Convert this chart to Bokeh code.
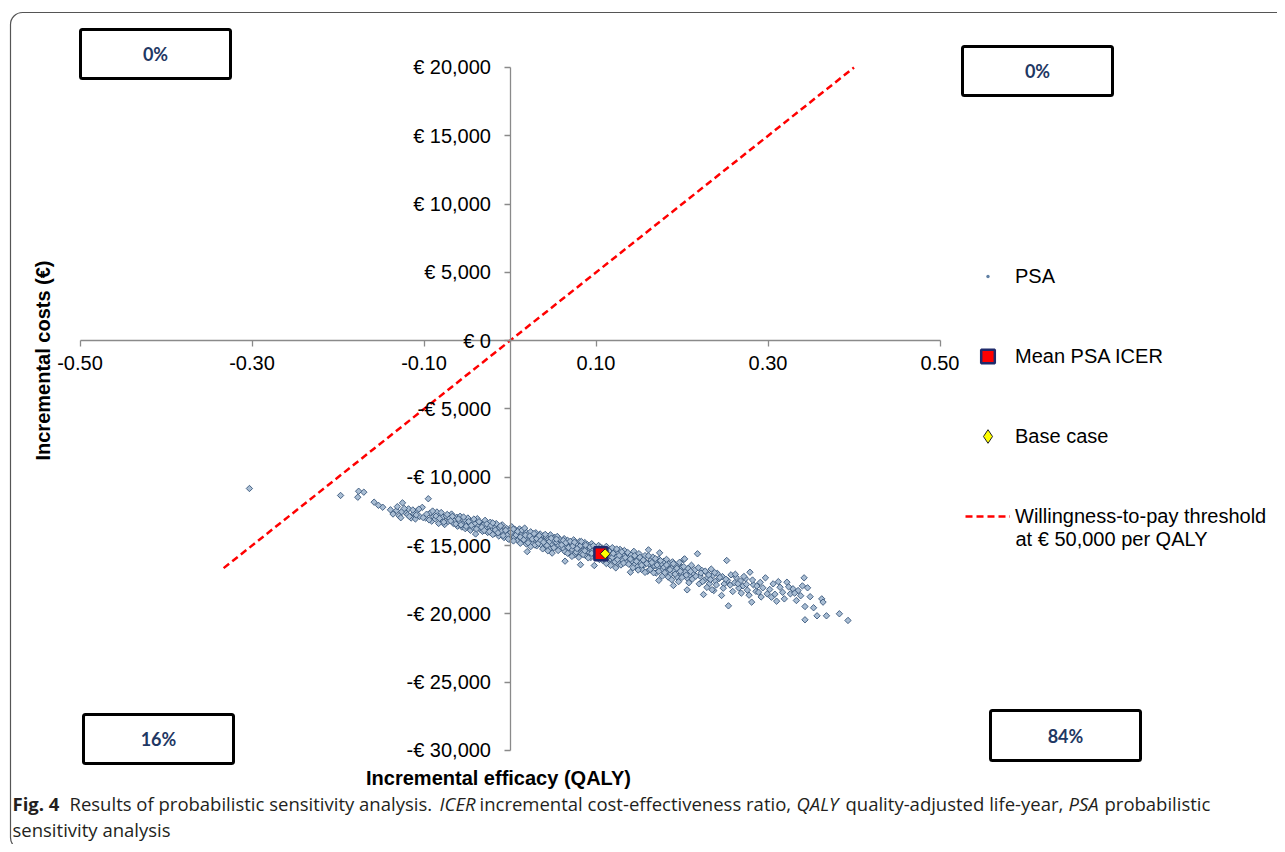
import math
from bokeh.plotting import figure
from bokeh.models import (Range1d, FixedTicker, Legend, LegendItem, Label,
                          BoxAnnotation, ColumnDataSource)
from bokeh.embed import file_html
from bokeh.resources import INLINE

# ---------------- data ----------------
psa_points = [
    (-0.303, -10820),
    (-0.197, -11330), (-0.176, -11020), (-0.177, -11460), (-0.170, -11090),
    (-0.158, -11820), (-0.148, -12190), (-0.139, -12380), (-0.153, -12050),
    (-0.132, -12430), (-0.125, -11870), (-0.136, -12690), (-0.129, -12820),
    (-0.122, -12560), (-0.118, -12310), (-0.115, -12980), (-0.112, -12640),
    (-0.108, -12450), (-0.105, -12870), (-0.119, -12740), (-0.126, -12520),
    (-0.102, -12200), (-0.110, -13050),
    (-0.098, -12980), (-0.095, -11570), (-0.093, -12620), (-0.091, -13210),
    (-0.089, -12880), (-0.087, -13050), (-0.085, -12540), (-0.083, -13380),
    (-0.081, -12760), (-0.079, -13120), (-0.078, -12910), (-0.076, -13460),
    (-0.074, -12840), (-0.072, -13230), (-0.070, -13010), (-0.068, -12690),
    (-0.066, -13370), (-0.064, -13140), (-0.062, -12920), (-0.061, -13580),
    (-0.059, -13290), (-0.058, -12850), (-0.056, -13640), (-0.055, -13420),
    (-0.053, -13100), (-0.052, -13760), (-0.050, -13350), (-0.049, -12980),
    (-0.047, -13550), (-0.046, -13880), (-0.044, -13220), (-0.043, -13670),
    (-0.041, -13410), (-0.040, -14150), (-0.038, -13030), (-0.037, -13590),
    (-0.035, -13800), (-0.034, -13340), (-0.032, -13960), (-0.031, -13480),
    (-0.029, -13150), (-0.028, -13720), (-0.026, -14040), (-0.025, -13560),
    (-0.023, -13290), (-0.021, -13880),
    (-0.019, -13610), (-0.018, -14120), (-0.016, -13390), (-0.015, -13850),
    (-0.013, -14300), (-0.012, -13700), (-0.010, -13960), (-0.009, -13480),
    (-0.007, -14410), (-0.006, -14080), (-0.004, -13740), (-0.003, -14230),
    (-0.001, -13910), (0.000, -14550), (0.002, -13620), (0.003, -14170),
    (0.005, -14380), (0.006, -13830), (0.008, -14040), (0.009, -14620),
    (0.010, -14260), (0.011, -13780), (0.013, -14490), (0.014, -14110),
    (0.016, -13950), (0.017, -14330), (0.018, -14700), (0.019, -14020),
    (0.020, -14450), (0.020, -15440),
    (0.021, -14180), (0.022, -14630), (0.024, -13990), (0.025, -14410),
    (0.026, -14870), (0.027, -14250), (0.029, -14560), (0.030, -14060),
    (0.031, -15020), (0.032, -14390), (0.034, -14720), (0.035, -14150),
    (0.036, -14940), (0.037, -14510), (0.039, -14280), (0.040, -15110),
    (0.041, -14660), (0.042, -14370), (0.044, -14830), (0.045, -14540),
    (0.046, -15230), (0.047, -14210), (0.049, -14890), (0.049, -15550),
    (0.050, -14620), (0.052, -14400), (0.053, -15060), (0.054, -14770),
    (0.055, -14330), (0.057, -14980), (0.058, -14560), (0.059, -15180),
    (0.061, -14730), (0.062, -15210), (0.063, -14490), (0.064, -16140),
    (0.065, -14960), (0.066, -15380), (0.067, -14620), (0.069, -15090),
    (0.070, -15520), (0.071, -14810), (0.072, -15270), (0.074, -14580),
    (0.075, -15660), (0.076, -15010), (0.077, -14870), (0.079, -15430),
    (0.080, -15150), (0.081, -14690), (0.082, -16400), (0.083, -15590),
    (0.084, -15020), (0.086, -15310), (0.087, -14780), (0.088, -15740),
    (0.089, -15180), (0.090, -14930), (0.092, -15480), (0.093, -15250),
    (0.094, -15870), (0.095, -14860), (0.096, -15390), (0.098, -16460),
    (0.098, -15120), (0.099, -15640),
    (0.101, -15280), (0.102, -15710), (0.103, -14990), (0.104, -15520),
    (0.106, -15860), (0.107, -15170), (0.108, -16090), (0.109, -15430),
    (0.111, -15750), (0.112, -15060), (0.113, -16240), (0.114, -15590),
    (0.116, -15320), (0.117, -15980), (0.118, -15680), (0.119, -15150),
    (0.121, -16150), (0.122, -15470), (0.123, -16630), (0.124, -15820),
    (0.126, -15560), (0.127, -16310), (0.128, -15280), (0.129, -15940),
    (0.131, -16070), (0.132, -15630), (0.133, -15360), (0.135, -16220),
    (0.136, -15790), (0.137, -15510), (0.139, -16040), (0.140, -16950),
    (0.141, -15690), (0.142, -16130), (0.144, -15420), (0.145, -16380),
    (0.146, -15880), (0.148, -16560), (0.149, -16010), (0.150, -15590),
    (0.152, -16270), (0.153, -16740), (0.154, -15960), (0.156, -16420),
    (0.157, -15730), (0.158, -16190), (0.160, -16880), (0.161, -15310),
    (0.162, -16350), (0.164, -16050), (0.165, -16620), (0.166, -15840),
    (0.168, -16480), (0.169, -16210), (0.170, -17010), (0.172, -16590),
    (0.173, -15980), (0.173, -17550), (0.174, -15530), (0.176, -16330),
    (0.177, -16770), (0.179, -16140),
    (0.181, -16560), (0.182, -16010), (0.184, -16890), (0.185, -16320),
    (0.186, -17140), (0.188, -16680), (0.189, -16190), (0.190, -17920),
    (0.191, -16850), (0.193, -16470), (0.194, -17290), (0.196, -16740),
    (0.197, -16230), (0.199, -17060), (0.200, -16590), (0.202, -16020),
    (0.203, -15970), (0.204, -16930), (0.206, -17380), (0.206, -18240),
    (0.207, -16670), (0.209, -17150), (0.211, -16440), (0.213, -17020),
    (0.215, -16780), (0.218, -15600),
    (0.221, -17240), (0.223, -16810), (0.225, -18580), (0.226, -17530),
    (0.228, -16950), (0.230, -17360), (0.232, -17790), (0.234, -16720),
    (0.236, -17180), (0.237, -18290), (0.239, -17600), (0.241, -17030),
    (0.243, -17420), (0.246, -18650), (0.247, -17270), (0.249, -17810),
    (0.252, -16090), (0.253, -17550), (0.254, -19410), (0.257, -17140),
    (0.261, -17730), (0.263, -17320), (0.266, -18110), (0.268, -17590),
    (0.271, -17950), (0.274, -17420), (0.276, -18260), (0.279, -16950),
    (0.281, -19140), (0.283, -17870), (0.286, -18350), (0.289, -18410),
    (0.291, -17690), (0.294, -18090), (0.297, -17360), (0.299, -18530),
    (0.304, -18780), (0.306, -17800), (0.310, -19070), (0.314, -18050),
    (0.317, -18420), (0.322, -17680), (0.326, -18530), (0.329, -18160),
    (0.333, -19020), (0.335, -18290), (0.338, -18670), (0.340, -17950),
    (0.342, -17360), (0.343, -19460), (0.343, -20430), (0.346, -18090),
    (0.349, -18740), (0.353, -19550), (0.357, -20140), (0.3625, -18900),
    (0.364, -19140), (0.368, -20140), (0.383, -19990), (0.393, -20480),
    # second pass over the dense part of the cloud
    (-0.131, -12150), (-0.127, -12960), (-0.123, -12280), (-0.117, -12870),
    (-0.113, -12390), (-0.109, -12760), (-0.106, -12330), (-0.101, -12950),
    (-0.097, -12700), (-0.094, -13120), (-0.090, -12470), (-0.086, -12840),
    (-0.082, -13010), (-0.080, -12580), (-0.077, -13280), (-0.073, -12720),
    (-0.069, -13190), (-0.067, -12860), (-0.063, -13420), (-0.060, -13050),
    (-0.057, -13480), (-0.054, -12910), (-0.051, -13590), (-0.048, -13240),
    (-0.045, -13520), (-0.042, -13060), (-0.039, -13780), (-0.036, -13250),
    (-0.033, -13650), (-0.030, -13890), (-0.027, -13420), (-0.024, -13980),
    (-0.022, -13520), (-0.020, -14190), (-0.020, -13340),
    (-0.017, -13860), (-0.014, -14060), (-0.011, -13560), (-0.008, -14270),
    (-0.005, -13880), (-0.002, -14520), (0.001, -14040), (0.004, -13790),
    (0.004, -14660), (0.007, -14220), (0.009, -13960), (0.012, -14370),
    (0.012, -14830), (0.014, -13870), (0.016, -14570), (0.018, -14240),
    (0.019, -14880), (0.017, -13720),
    (0.021, -14790), (0.023, -14300), (0.024, -15080), (0.026, -14520),
    (0.028, -14120), (0.029, -14950), (0.031, -14480), (0.033, -14830),
    (0.034, -14270), (0.036, -14620), (0.038, -15240), (0.039, -14750),
    (0.041, -14180), (0.043, -14990), (0.044, -15380), (0.046, -14700),
    (0.048, -14460), (0.051, -15150), (0.054, -14530), (0.056, -15360),
    (0.060, -14950), (0.062, -14620), (0.064, -15450), (0.065, -14790),
    (0.067, -15560), (0.068, -15140), (0.070, -14690), (0.072, -15790),
    (0.073, -15030), (0.075, -14750), (0.077, -15480), (0.078, -15220),
    (0.080, -15860), (0.082, -15000), (0.083, -14700), (0.085, -15650),
    (0.087, -15380), (0.088, -14970), (0.091, -15900), (0.093, -15100),
    (0.095, -15560), (0.097, -15010),
    (0.100, -15830), (0.102, -15420), (0.104, -16020), (0.105, -15130),
    (0.107, -15610), (0.109, -15950), (0.110, -15290), (0.112, -16310),
    (0.114, -15820), (0.115, -15400), (0.117, -16450), (0.119, -15860),
    (0.120, -15570), (0.122, -16190), (0.124, -15250), (0.125, -16020),
    (0.127, -15720), (0.129, -16420), (0.130, -15460), (0.132, -16280),
    (0.134, -15870), (0.138, -16360),
    (0.140, -15980), (0.143, -16620), (0.145, -15740), (0.147, -16150),
    (0.149, -16790), (0.151, -15860), (0.153, -16430), (0.155, -16060),
    (0.157, -16960), (0.159, -16310), (0.161, -15750), (0.163, -16740),
    (0.165, -16240), (0.167, -16990), (0.169, -15960), (0.171, -16420),
    (0.173, -16880), (0.175, -16100), (0.177, -17240), (0.179, -16580),
    (0.180, -16980), (0.182, -16420), (0.184, -17310), (0.186, -16760),
    (0.188, -17500), (0.190, -16330), (0.192, -17090), (0.194, -16660),
    (0.196, -17640), (0.198, -16880), (0.200, -17330), (0.202, -16540),
    (0.205, -17160), (0.208, -17720), (0.210, -16890), (0.212, -17450),
    (0.216, -17240), (0.219, -16620),
    (0.220, -17800), (0.222, -17010), (0.224, -17630), (0.227, -16870),
    (0.229, -18060), (0.231, -17150), (0.233, -17480), (0.235, -18230),
    (0.238, -16980), (0.240, -17880), (0.244, -17330), (0.248, -18120),
    (0.251, -17460), (0.256, -17890),
    (0.259, -18360), (0.262, -17100), (0.265, -17790), (0.269, -18480),
    (0.272, -17260), (0.275, -17840), (0.278, -18630), (0.282, -17520),
    (0.287, -17960), (0.292, -18760),
    (0.302, -18210), (0.308, -18560), (0.312, -17640), (0.319, -18900),
    (0.324, -18020), (0.331, -18480),
]
psa_qaly = [pt[0] for pt in psa_points]
psa_cost = [pt[1] for pt in psa_points]

mean_qaly = [0.1057]
mean_cost = [-15600]
base_qaly = [0.1107]
base_cost = [-15600]

wtp_qaly = [-0.333, 0.400]
wtp_cost = [-16650, 20000]

x_ticks = [-0.5, -0.3, -0.1, 0.1, 0.3, 0.5]
x_tick_labels = ["-0.50", "-0.30", "-0.10", "0.10", "0.30", "0.50"]
y_ticks = [20000, 15000, 10000, 5000, 0, -5000, -10000, -15000, -20000, -25000, -30000]
y_tick_labels = ["€ 20,000", "€ 15,000", "€ 10,000", "€ 5,000", "€ 0", "-€ 5,000",
                 "-€ 10,000", "-€ 15,000", "-€ 20,000", "-€ 25,000", "-€ 30,000"]

quadrant_labels = ["0%", "0%", "16%", "84%"]  # NW, NE, SW, SE
legend_labels = ["PSA", "Mean PSA ICER", "Base case", "Willingness-to-pay threshold"]
legend_label_line2 = "at € 50,000 per QALY"
x_title = "Incremental efficacy (QALY)"
y_title = "Incremental costs (€)"

# ---------------- figure ----------------
FONT = "Liberation Sans"

p = figure(width=1277, height=844, x_range=Range1d(-0.58314, 0.89244),
           y_range=Range1d(-36882, 24319), output_backend="svg",
           toolbar_location=None, title=None,
           min_border_left=8, min_border_top=8, min_border_right=0, min_border_bottom=0)
p.outline_line_color = None
p.background_fill_color = "white"
p.border_fill_color = "white"
p.xgrid.visible = False
p.ygrid.visible = False

for ax, ticks, labels in ((p.xaxis, x_ticks, x_tick_labels), (p.yaxis, y_ticks, y_tick_labels)):
    ax.fixed_location = 0
    ax.ticker = FixedTicker(ticks=ticks)
    ax.major_label_overrides = dict(zip(ticks, labels))
    ax.axis_line_color = "#8a8a8a"
    ax.axis_line_width = 1.3
    ax.major_tick_line_color = "#8a8a8a"
    ax.major_tick_line_width = 1.3
    ax.major_tick_in = 0
    ax.major_tick_out = 6
    ax.minor_tick_in = 0
    ax.minor_tick_out = 0
    ax.major_label_text_font = FONT
    ax.major_label_text_font_size = "20px"
    ax.major_label_text_color = "#000000"
p.xaxis.bounds = (x_ticks[0], x_ticks[-1])
p.yaxis.bounds = (y_ticks[-1], y_ticks[0])
p.xaxis.major_label_standoff = 9
p.yaxis.major_label_standoff = 13

# outer rounded frame
p.add_layout(BoxAnnotation(left=2, right=1290, top=832, bottom=-5,
                           left_units="screen", right_units="screen",
                           top_units="screen", bottom_units="screen",
                           fill_alpha=0, line_color="#555555", line_alpha=1,
                           line_width=1.2, border_radius=12, level="underlay"))

# WTP threshold line
r_wtp = p.line(wtp_qaly, wtp_cost, line_color="#ff0000", line_width=2.5, line_dash="7 4")

# PSA cloud
src = ColumnDataSource(dict(x=psa_qaly, y=psa_cost))
r_psa = p.scatter("x", "y", source=src, marker="square", angle=math.pi / 4, size=4.5,
                  fill_color="#a9bdd3", line_color="#38567a", line_width=0.9)
r_mean = p.scatter(mean_qaly, mean_cost, marker="square", size=13,
                   fill_color="#ff0000", line_color="#1f2a6b", line_width=2.5)
r_base = p.scatter(base_qaly, base_cost, marker="square", angle=math.pi / 4, size=7,
                   fill_color="#ffff00", line_color="#222222", line_width=1)

# legend swatches: proxies whose single point is NaN (never shown in the plot area)
nan = [float("nan")]
lg_psa = p.scatter(nan, nan, marker="dot", size=4, line_color="#5f7fa3",
                   fill_color="#5f7fa3", line_width=1.5)
lg_mean = p.scatter(nan, nan, marker="square", size=13, fill_color="#ff0000",
                    line_color="#1f2a6b", line_width=2.5)
lg_base = p.scatter(nan, nan, marker="diamond", size=7, fill_color="#ffff00",
                    line_color="#222222", line_width=1)

legend = Legend(items=[LegendItem(label=legend_labels[0], renderers=[lg_psa]),
                       LegendItem(label=legend_labels[1], renderers=[lg_mean]),
                       LegendItem(label=legend_labels[2], renderers=[lg_base]),
                       LegendItem(label=legend_labels[3], renderers=[r_wtp])],
                location=(957, 311), orientation="vertical",
                glyph_width=45, glyph_height=34, label_height=34, spacing=46,
                padding=0, margin=0, label_standoff=5,
                border_line_alpha=0, background_fill_alpha=0,
                label_text_font=FONT, label_text_font_size="20px",
                label_text_color="#000000")
p.add_layout(legend)
p.add_layout(Label(x=1007, y=306, x_units="screen", y_units="screen",
                   text=legend_label_line2, text_font=FONT, text_font_size="20px",
                   text_baseline="middle", text_align="left", text_color="#000000"))

# axis titles
p.add_layout(Label(x=490, y=67, x_units="screen", y_units="screen", text=x_title,
                   text_font=FONT, text_font_size="20px", text_font_style="bold",
                   text_align="center", text_baseline="middle", text_color="#000000"))
p.add_layout(Label(x=34, y=484, x_units="screen", y_units="screen", text=y_title,
                   angle=math.pi / 2, text_font=FONT, text_font_size="20px",
                   text_font_style="bold", text_align="center", text_baseline="middle",
                   text_color="#000000"))

# quadrant boxes (screen positions: left, right, top, bottom)
box_pos = [(72, 222, 815, 766), (954, 1104, 798, 749), (75, 225, 130, 81), (982, 1132, 134, 84)]
for (l, r, t, b), txt in zip(box_pos, quadrant_labels):
    p.add_layout(BoxAnnotation(left=l, right=r, top=t, bottom=b,
                               left_units="screen", right_units="screen",
                               top_units="screen", bottom_units="screen",
                               fill_color="white", fill_alpha=1, line_color="black",
                               line_alpha=1, line_width=3, border_radius=2))
    p.add_layout(Label(x=(l + r) / 2, y=(t + b) / 2, x_units="screen", y_units="screen",
                       text=txt, text_font="Lato", text_font_size="18px",
                       text_font_style="bold", text_align="center",
                       text_baseline="middle", text_color="#1f3864"))

# caption
CAP = "Open Sans"
cap_size = "18.5px"
cap_pieces = [
    (4, 41, "Fig. 4", "bold"),
    (61, 41, "Results of probabilistic sensitivity analysis.", "normal"),
    (431, 41, "ICER", "italic"),
    (471, 41, "incremental cost-effectiveness ratio,", "normal"),
    (788, 41, "QALY", "italic"),
    (837, 41, "quality-adjusted life-year,", "normal"),
    (1060, 41, "PSA", "italic"),
    (1096, 41, "probabilistic", "normal"),
    (4, 15, "sensitivity analysis", "normal"),
]
for x, y, txt, style in cap_pieces:
    p.add_layout(Label(x=x, y=y, x_units="screen", y_units="screen", text=txt,
                       text_font=CAP, text_font_size=cap_size, text_font_style=style,
                       text_align="left", text_baseline="middle", text_color="#231f20"))

open("out.html", "w").write(file_html(p, INLINE))
